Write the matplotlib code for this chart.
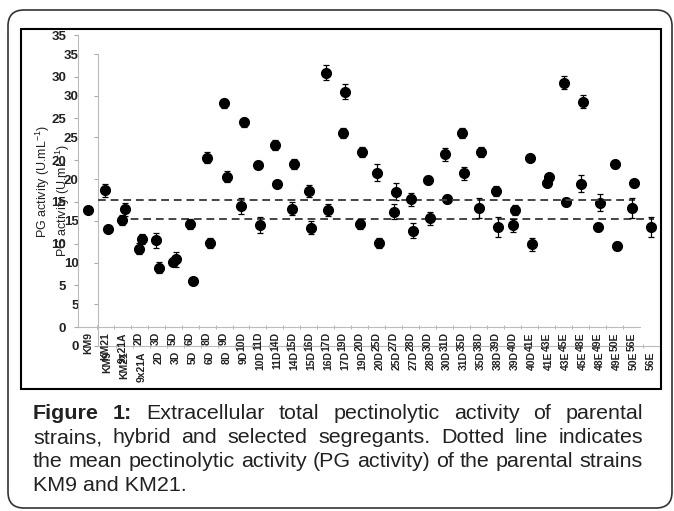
import numpy as np
import matplotlib
matplotlib.use('Agg')
import matplotlib.pyplot as plt
import matplotlib.patches as mpatches
from matplotlib.transforms import IdentityTransform

# strains: parents, hybrid and segregants
strains = ["KM9", "KM21", "9x21A", "2D", "3D", "5D", "6D", "8D", "9D", "10D",
           "11D", "14D", "15D", "16D", "17D", "19D", "20D", "25D", "27D", "28D",
           "30D", "31D", "35D", "38D", "39D", "40D", "41E", "43E", "45E", "48E",
           "49E", "50E", "56E"]
pg_activity = [14.0, 16.4, 12.8, 9.4, 10.4, 7.8, 12.4, 20.3, 26.8, 14.5,
               19.4, 21.8, 14.2, 16.3, 30.5, 23.3, 12.4, 18.5, 13.8, 15.3,
               17.6, 20.7, 23.3, 14.3, 16.3, 12.2, 20.3, 17.3, 29.3, 17.2,
               12.0, 19.5, 14.3]
pg_error = [0.2, 0.8, 0.6, 0.7, 0.9, 0.4, 0.6, 0.7, 0.5, 1.0,
            0.4, 0.6, 0.8, 0.7, 0.9, 0.6, 0.6, 1.0, 0.9, 0.8,
            0.5, 0.8, 0.6, 1.2, 0.6, 0.8, 0.3, 0.4, 0.8, 1.0,
            0.5, 0.4, 1.2]
y_ticks = [0, 5, 10, 15, 20, 25, 30, 35]

caption_lines = [
    "Figure 1: Extracellular total pectinolytic activity of parental",
    "strains, hybrid and selected segregants. Dotted line indicates",
    "the mean pectinolytic activity (PG activity) of the parental strains",
    "KM9 and KM21.",
]

W, H = 674, 511
plt.rcParams['font.family'] = ['Liberation Sans', 'DejaVu Sans']
plt.rcParams['mathtext.default'] = 'regular'
narrow = ['Liberation Sans Narrow', 'Liberation Sans', 'DejaVu Sans']


def px_rect(left, top, right, bottom):
    return [left / W, 1 - bottom / H, (right - left) / W, (bottom - top) / H]


def draw_chart(fig, left, top, right, bottom, label_pad):
    ax = fig.add_axes(px_rect(left, top, right, bottom))
    ax.patch.set_alpha(0)
    x = np.arange(len(strains))
    ax.errorbar(x, pg_activity, yerr=pg_error, fmt='o', color='black', ms=7,
                elinewidth=0.9, capsize=2.5, capthick=0.9, zorder=3)
    parent_mean = np.mean(pg_activity[:2])
    ax.plot([0.6, len(strains) - 0.8], [parent_mean, parent_mean],
            ls=(0, (4, 2.5)), color='#444444', lw=1.4, zorder=2)

    ax.set_xlim(-0.6, len(strains) - 0.5)
    ax.set_ylim(0, 35)
    ax.set_yticks(y_ticks)
    ax.set_yticklabels([str(v) for v in y_ticks], fontsize=9.5,
                       fontweight='bold', color='#222222')
    ax.set_xticks(x)
    ax.set_xticklabels(strains, rotation=90, fontsize=7.5, fontweight='bold',
                       color='#222222', family=narrow)
    ax.set_xticks(x[:-1] + 0.5, minor=True)
    ax.tick_params(axis='x', which='major', length=0, pad=3.6)
    ax.tick_params(axis='x', which='minor', length=3, color='#aaaaaa',
                   direction='inout')
    ax.tick_params(axis='y', length=3, color='#aaaaaa', pad=label_pad)
    for s in ['top', 'right']:
        ax.spines[s].set_visible(False)
    ax.spines['left'].set_color('#bbbbbb')
    ax.spines['bottom'].set_color('#bbbbbb')
    ax.set_ylabel('PG activity (U.mL$^{-1}$)', fontsize=9, color='#222222')
    ax.yaxis.set_label_coords(-26 / (right - left), 0.5)
    return ax


fig = plt.figure(figsize=(W / 100, H / 100), dpi=100)

# ghost copy, shifted right/down, then the main chart
draw_chart(fig, 97.5, 54, 659.5, 346, 10.5)
draw_chart(fig, 78, 35, 640, 327, 5.5)

# chart frame and rounded outer box (pixel coords)
frame = mpatches.Rectangle((21, H - 389), 640, 360, fill=False, ec='black',
                           lw=1.5, transform=IdentityTransform())
fig.add_artist(frame)
outer = mpatches.FancyBboxPatch((8, H - 508), 664, 498,
                                boxstyle='round,pad=0,rounding_size=16',
                                fill=False, ec='#333333', lw=1.2,
                                transform=IdentityTransform())
fig.add_artist(outer)

# caption, justified
renderer = fig.canvas.get_renderer()
cap_font = ['Liberation Sans', 'DejaVu Sans']
probe = fig.text(0, 0, caption_lines[2], fontsize=12, family=cap_font)
natural = probe.get_window_extent(renderer).width
probe.remove()
cap_size = 12 * 610 / natural

x0, x1 = 33, 643
baselines = [419, 443, 467, 491]
for i, (line, base) in enumerate(zip(caption_lines, baselines)):
    y = 1 - base / H
    if i == len(caption_lines) - 1:
        fig.text(x0 / W, y, line, fontsize=cap_size, family=cap_font,
                 va='baseline', color='#222222')
        continue
    words = line.split(' ')
    texts = []
    for j, w in enumerate(words):
        bold = (i == 0 and j < 2)
        t = fig.text(0, y, w, fontsize=cap_size, family=cap_font,
                     fontweight='bold' if bold else 'normal',
                     va='baseline', color='#222222')
        texts.append(t)
    widths = [t.get_window_extent(renderer).width for t in texts]
    gap = (x1 - x0 - sum(widths)) / (len(words) - 1)
    xp = x0
    for t, wd in zip(texts, widths):
        t.set_x(xp / W)
        xp += wd + gap

fig.savefig('out.png', dpi=100)
